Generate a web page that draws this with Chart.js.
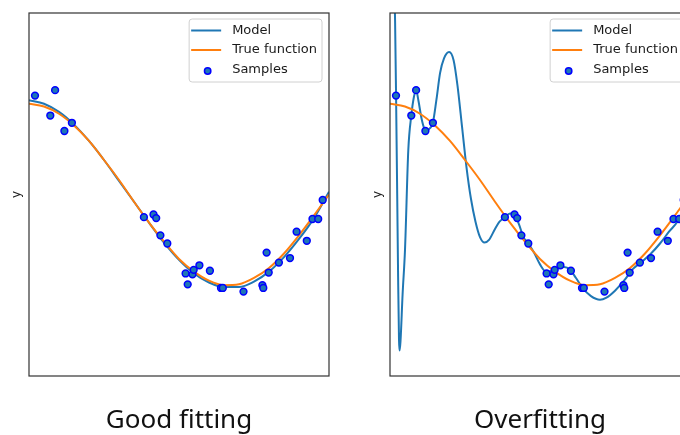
<!DOCTYPE html>
<html>
<head>
<meta charset="utf-8">
<script src="https://cdn.jsdelivr.net/npm/chart.js@4.4.0/dist/chart.umd.min.js"></script>
<style>
  html, body { margin: 0; padding: 0; background: #fff; overflow: hidden; }
  #wrap { position: relative; width: 722px; height: 435px; }
  canvas { position: absolute; top: 0; }
</style>
</head>
<body>
<div id="wrap">
  <canvas id="good" width="361" height="435" style="left:0"></canvas>
  <canvas id="over" width="361" height="435" style="left:361px"></canvas>
</div>
<script>
// noisy samples (same in both panels)
const sampleX = [0.020, 0.071, 0.087, 0.118, 0.143, 0.383, 0.415, 0.424, 0.438, 0.461,
  0.522, 0.529, 0.545, 0.549, 0.568, 0.603, 0.640, 0.646, 0.715, 0.778,
  0.781, 0.792, 0.799, 0.833, 0.870, 0.892, 0.926, 0.945, 0.964, 0.979];
const sampleY = [1.09, 0.87, 1.15, 0.70, 0.79, -0.25, -0.22, -0.26, -0.45, -0.54,
  -0.87, -0.99, -0.88, -0.83, -0.78, -0.84, -1.03, -1.03, -1.07, -1.00,
  -1.03, -0.64, -0.86, -0.75, -0.70, -0.41, -0.51, -0.27, -0.27, -0.06];

// true function and the good (low degree) model
const curveX = [0, 0.05, 0.1, 0.15, 0.2, 0.25, 0.3, 0.35, 0.4, 0.45, 0.5,
  0.55, 0.6, 0.65, 0.7, 0.75, 0.8, 0.85, 0.9, 0.95, 1.0];
const trueY = [1.0, 0.97, 0.89, 0.76, 0.59, 0.38, 0.16, -0.08, -0.31, -0.52, -0.71,
  -0.85, -0.95, -1.0, -0.99, -0.92, -0.81, -0.65, -0.45, -0.23, 0.0];
const goodY = [1.04, 1.0, 0.91, 0.77, 0.59, 0.38, 0.15, -0.08, -0.31, -0.53, -0.72,
  -0.87, -0.97, -1.02, -1.02, -0.96, -0.85, -0.69, -0.49, -0.26, 0.03];

// overfitted (high degree) model
const overX = [0, 0.012, 0.017, 0.0202, 0.024, 0.027, 0.030, 0.032, 0.035, 0.042, 0.05,
  0.061, 0.071, 0.08, 0.087, 0.095, 0.105, 0.115, 0.122, 0.133, 0.143, 0.155, 0.167,
  0.18, 0.197, 0.212, 0.225, 0.24, 0.255, 0.27, 0.285, 0.3, 0.315, 0.33, 0.35, 0.365,
  0.383, 0.4, 0.415, 0.43, 0.445, 0.461, 0.48, 0.5, 0.52, 0.54, 0.56, 0.58, 0.6, 0.62,
  0.64, 0.67, 0.7, 0.72, 0.75, 0.78, 0.81, 0.84, 0.87, 0.9, 0.93, 0.96, 0.98, 1.0];
const overY = [4.5, 2.6, 1.9, 1.09, 0.0, -0.9, -1.6, -1.72, -1.62, -1.1, -0.61,
  0.49, 0.87, 1.08, 1.15, 1.03, 0.84, 0.72, 0.70, 0.73, 0.79, 1.05, 1.34,
  1.5, 1.57, 1.48, 1.2, 0.75, 0.3, -0.05, -0.3, -0.47, -0.53, -0.5, -0.38, -0.3,
  -0.25, -0.21, -0.22, -0.33, -0.47, -0.54, -0.64, -0.77, -0.85, -0.84, -0.81, -0.8, -0.83, -0.92,
  -1.02, -1.12, -1.16, -1.14, -1.06, -0.95, -0.82, -0.74, -0.65, -0.54, -0.41, -0.29, -0.15, 0.05];

const pts = (xs, ys) => xs.map((x, i) => ({ x: x, y: ys[i] }));

const boxPlugin = {
  id: "box",
  afterDatasetsDraw(chart) {
    const ctx = chart.ctx;
    const a = chart.chartArea;
    ctx.save();
    ctx.strokeStyle = "#333";
    ctx.lineWidth = 1.2;
    ctx.strokeRect(a.left, a.top, a.right - a.left, a.bottom - a.top);

    // legend in the upper right corner
    const sets = chart.data.datasets;
    ctx.font = "13px 'DejaVu Sans'";
    const tw = Math.max(...sets.map((d) => ctx.measureText(d.label).width));
    const w = 43 + tw + 5;
    const h = 63;
    const x = a.right - 7 - w;
    const y = a.top + 6;
    ctx.beginPath();
    ctx.roundRect(x, y, w, h, 3);
    ctx.fillStyle = "rgba(255,255,255,0.8)";
    ctx.fill();
    ctx.strokeStyle = "#d0d0d0";
    ctx.lineWidth = 1;
    ctx.stroke();
    sets.forEach((d, i) => {
      const cy = y + 11.5 + i * 19.5;
      if (d.type === "scatter") {
        ctx.beginPath();
        ctx.arc(x + 18.5, cy + 1.5, 3.2, 0, Math.PI * 2);
        ctx.fillStyle = d.backgroundColor;
        ctx.fill();
        ctx.strokeStyle = d.borderColor;
        ctx.lineWidth = 1.5;
        ctx.stroke();
      } else {
        ctx.beginPath();
        ctx.moveTo(x + 2, cy);
        ctx.lineTo(x + 32, cy);
        ctx.strokeStyle = d.borderColor;
        ctx.lineWidth = 2;
        ctx.stroke();
      }
      ctx.fillStyle = "#1a1a1a";
      ctx.textBaseline = "middle";
      ctx.fillText(d.label, x + 43, cy);
    });
    ctx.restore();
  },
};

function makeChart(id, modelX, modelY, title) {
  new Chart(document.getElementById(id), {
    type: "line",
    data: {
      datasets: [
        {
          label: "Model",
          data: pts(modelX, modelY),
          borderColor: "#1f77b4",
          borderWidth: 2,
          pointRadius: 0,
          cubicInterpolationMode: "monotone",
          order: 2,
        },
        {
          label: "True function",
          data: pts(curveX, trueY),
          borderColor: "#ff7f0e",
          borderWidth: 2,
          pointRadius: 0,
          cubicInterpolationMode: "monotone",
          order: 1,
        },
        {
          type: "scatter",
          label: "Samples",
          data: pts(sampleX, sampleY),
          backgroundColor: "#1f77b4",
          borderColor: "#0000ff",
          borderWidth: 1.5,
          pointRadius: 3.4,
          order: 0,
        },
      ],
    },
    options: {
      responsive: false,
      animation: false,
      layout: { padding: { top: 13, right: 32, left: 0, bottom: 0 } },
      scales: {
        x: { type: "linear", min: 0, max: 1, display: false },
        y: {
          min: -2,
          max: 2,
          grid: { display: false },
          border: { display: false },
          ticks: { display: false },
          title: {
            display: true,
            text: "y",
            color: "#222",
            font: { family: "DejaVu Sans", size: 12 },
            padding: { top: 10, bottom: 0 },
          },
          afterFit(scale) { scale.width = 29; },
        },
      },
      plugins: {
        legend: { display: false },
        tooltip: { enabled: false },
        title: {
          display: true,
          text: title,
          position: "bottom",
          fullSize: false,
          color: "#111",
          font: { family: "Noto Sans", size: 26, weight: "normal", lineHeight: 1.1 },
          padding: { top: 30.4, bottom: 0 },
        },
      },
    },
    plugins: [boxPlugin],
  });
}

makeChart("good", curveX, goodY, "Good fitting");
makeChart("over", overX, overY, "Overfitting");
</script>
</body>
</html>
